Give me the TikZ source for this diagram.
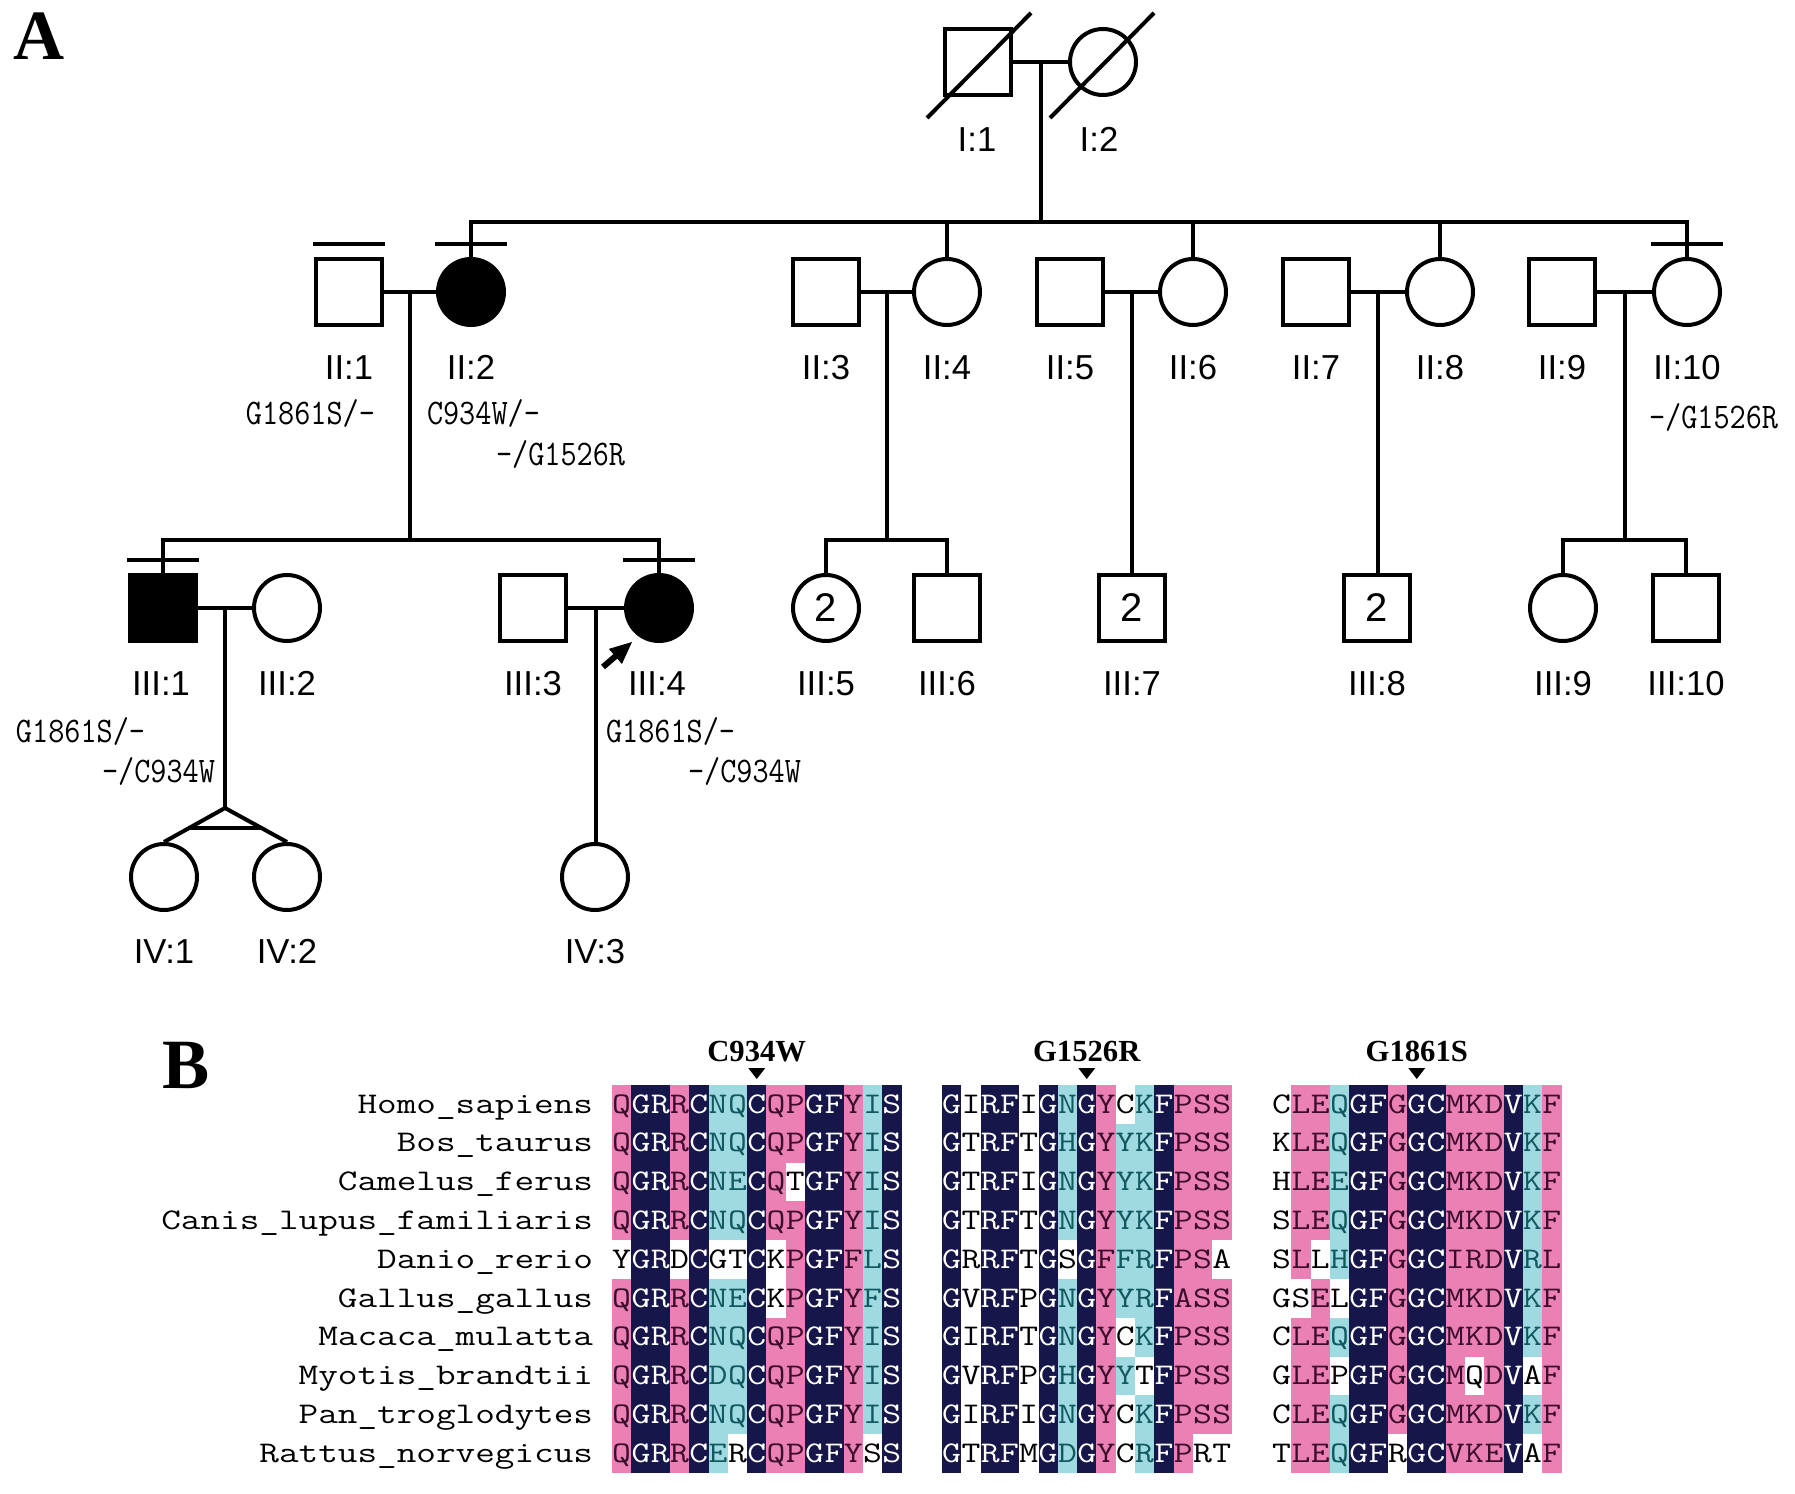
\documentclass[tikz,border=0pt]{standalone}
\usepackage{fontspec}
\usepackage{graphicx}
\setmainfont{Liberation Serif}
\newfontfamily\pedfont{Liberation Sans}
\usetikzlibrary{calc}

\definecolor{alP}{RGB}{234,128,180}
\definecolor{alN}{RGB}{22,22,74}
\definecolor{alC}{RGB}{158,218,224}
\definecolor{alW}{RGB}{255,255,255}
\definecolor{alPt}{RGB}{60,12,45}
\definecolor{alNt}{RGB}{255,255,255}
\definecolor{alCt}{RGB}{18,88,96}
\definecolor{alWt}{RGB}{0,0,0}

% widened typewriter text for the alignment
\newcommand{\seqtext}[1]{\scalebox{1.22}[1]{#1}}
\newcommand{\sptext}[1]{\scalebox{1.27}[1]{#1}}
\newcommand{\genotext}[1]{\scalebox{0.94}[1.08]{#1}}

% one row of one alignment block: block, row, letters, colour codes
\newcount\alcol
\makeatletter
\def\alrow#1#2#3#4{\def\al@b{#1}\def\al@r{#2}\alcol=0 \al@step#3\@nil#4\@nil}
\def\al@step#1#2\@nil#3#4\@nil{%
  \fill[al#3] ({612+(\al@b-1)*330+\the\alcol*19.3},{1085+(\al@r-1)*38.8}) rectangle ++(19.3,38.8);
  \node[seq, text=al#3t] (al-\al@b-\al@r-\the\alcol) at ({612+(\al@b-1)*330+(\the\alcol+0.5)*19.3},{1085+(\al@r-1)*38.8+28}) {\seqtext{#1}};
  \advance\alcol by 1
  \ifx\relax#2\relax\else\al@step#2\@nil#4\@nil\fi}
\makeatother

\begin{document}
\begin{tikzpicture}[x=0.75pt,y=0.75pt,yscale=-1,xscale=1,line width=3pt,
  male/.style={draw, rectangle, minimum size=50pt, inner sep=0pt},
  female/.style={draw, circle, minimum size=49.5pt, inner sep=0pt},
  affected/.style={fill=black},
  num/.style={font=\pedfont\fontsize{30}{34}\selectfont},
  lab/.style={font=\pedfont\fontsize{26}{30}\selectfont, anchor=base, inner sep=0pt},
  geno/.style={font=\ttfamily\fontsize{25}{30}\selectfont, inner sep=0pt},
  panel/.style={font=\bfseries\fontsize{53}{60}\selectfont, anchor=base west, inner sep=0pt},
  species/.style={font=\ttfamily\fontsize{22.5}{28}\selectfont, anchor=base east, inner sep=0pt},
  seq/.style={font=\ttfamily\fontsize{22.5}{28}\selectfont, anchor=base, inner sep=0pt},
  mut/.style={font=\bfseries\fontsize{23}{26}\selectfont, anchor=base, inner sep=0pt}]
	\useasboundingbox (0,0) rectangle (1795,1494);

	% Text Node
	\node[panel] (pA) at (11,60) {A};
	\node[panel] (pB) at (160,1088) {B};

	%Shape: generation I
	\node[male] (i1) at (978,62) {};
	\node[female] (i2) at (1103,62) {};
	\draw ($(i1)+(-51,56)$) -- ($(i1)+(53,-49)$);
	\draw ($(i2)+(-53,56)$) -- ($(i2)+(51,-49)$);

	%Shape: generation II
	\node[male] (ii1) at (349,292) {};
	\node[female, affected] (ii2) at (471,292) {};
	\node[male] (ii3) at (826,292) {};
	\node[female] (ii4) at (947,292) {};
	\node[male] (ii5) at (1070,292) {};
	\node[female] (ii6) at (1193,292) {};
	\node[male] (ii7) at (1316,292) {};
	\node[female] (ii8) at (1440,292) {};
	\node[male] (ii9) at (1562,292) {};
	\node[female] (ii10) at (1687,292) {};

	%Shape: generation III
	\node[male, affected] (iii1) at (163,608) {};
	\node[female] (iii2) at (287,608) {};
	\node[male] (iii3) at (533,608) {};
	\node[female, affected] (iii4) at (659,608) {};
	\node[female, num] (iii5) at (826,608) {2};
	\node[male] (iii6) at (947,608) {};
	\node[male, num] (iii7) at (1132,608) {2};
	\node[male, num] (iii8) at (1377,608) {2};
	\node[female] (iii9) at (1563,608) {};
	\node[male] (iii10) at (1686,608) {};

	%Shape: generation IV
	\node[female] (iv1) at (164,877) {};
	\node[female] (iv2) at (287,877) {};
	\node[female] (iv3) at (595,877) {};

	% sibship levels
	\coordinate (s2) at (0,222);
	\coordinate (s3) at (0,540);
	\coordinate (s4) at (0,808);

	%Straight Lines: marriages and descent
	\draw (i1) -- (i2);
	\coordinate (m1) at ($(i1)!0.5!(i2)$);
	\draw (m1) -- (m1 |- s2);
	\draw (ii2) -- (ii2 |- s2) -- (ii10 |- s2) -- (ii10);
	\foreach \k in {ii4,ii6,ii8} \draw (\k) -- (\k |- s2);

	\draw (ii1) -- (ii2);
	\draw (ii3) -- (ii4);
	\draw (ii5) -- (ii6);
	\draw (ii7) -- (ii8);
	\draw (ii9) -- (ii10);
	\coordinate (m2a) at ($(ii1)!0.5!(ii2)$);
	\coordinate (m2b) at ($(ii3)!0.5!(ii4)$);
	\coordinate (m2c) at ($(ii5)!0.5!(ii6)$);
	\coordinate (m2d) at ($(ii7)!0.5!(ii8)$);
	\coordinate (m2e) at ($(ii9)!0.5!(ii10)$);
	\draw (m2a) -- (m2a |- s3);
	\draw (iii1) -- (iii1 |- s3) -- (iii4 |- s3) -- (iii4);
	\draw (m2b) -- (m2b |- s3);
	\draw (iii5) -- (iii5 |- s3) -- (iii6 |- s3) -- (iii6);
	\draw (m2c) -- (m2c |- iii7.north);
	\draw (m2d) -- (m2d |- iii8.north);
	\draw (m2e) -- (m2e |- s3);
	\draw (iii9) -- (iii9 |- s3) -- (iii10 |- s3) -- (iii10);

	\draw (iii1) -- (iii2);
	\draw (iii3) -- (iii4);
	\coordinate (m3a) at ($(iii1)!0.5!(iii2)$);
	\coordinate (m3b) at ($(iii3)!0.5!(iii4)$);
	\coordinate (tw) at (m3a |- s4);
	\draw (m3a) -- (tw);
	\draw (iv1.north) -- (tw) -- (iv2.north);
	\draw ($(tw)!0.59!(iv1.north)$) -- ($(tw)!0.59!(iv2.north)$);
	\draw (m3b) -- (m3b |- iv3.north);

	%Straight Lines: bars over tested members
	\foreach \k in {ii1,ii2,ii10,iii1,iii4} \draw ($(\k.north)+(-36,-13)$) -- ($(\k.north)+(36,-13)$);

	%Curve Lines: proband arrow
	\coordinate (pa) at (603,667);
	\coordinate (pt) at (632,642);
	\draw [line width=4.5pt] (pa) -- ($(pa)!0.55!(pt)$);
	\draw [shift={(632,642)}, rotate = 139] [fill=black][line width=0.08] [draw opacity=0] (22,-10) -- (0,0) -- (22,10) -- cycle ;

	% Text Node: labels
	\node[lab] (l-i1) at (977,152) {I:1};
	\node[lab] (l-i2) at (1099,152) {I:2};
	\foreach \k/\x/\t in {1/349/II:1,2/471/II:2,3/826/II:3,4/947/II:4,5/1070/II:5,6/1193/II:6,7/1316/II:7,8/1440/II:8,9/1562/II:9,10/1687/II:10}
		\node[lab] (l-ii\k) at (\x,380) {\t};
	\foreach \k/\x/\t in {1/161/III:1,2/287/III:2,3/533/III:3,4/657/III:4,5/826/III:5,6/947/III:6,7/1132/III:7,8/1377/III:8,9/1563/III:9,10/1686/III:10}
		\node[lab] (l-iii\k) at (\x,695) {\t};
	\foreach \k/\x/\t in {1/164/IV:1,2/287/IV:2,3/595/IV:3}
		\node[lab] (l-iv\k) at (\x,963) {\t};

	% Text Node: genotypes
	\node[geno, anchor=base east] (g-ii1) at (377,425) {\genotext{G1861S/-}};
	\node[geno, anchor=base west] (g-ii2a) at (425,425) {\genotext{C934W/-}};
	\node[geno, anchor=base west] (g-ii2b) at (494,465) {\genotext{-/G1526R}};
	\node[geno, anchor=base west] (g-ii10) at (1647,428) {\genotext{-/G1526R}};
	\node[geno, anchor=base west] (g-iii1a) at (14,742) {\genotext{G1861S/-}};
	\node[geno, anchor=base west] (g-iii1b) at (100,782) {\genotext{-/C934W}};
	\node[geno, anchor=base west] (g-iii4a) at (604,742) {\genotext{G1861S/-}};
	\node[geno, anchor=base west] (g-iii4b) at (686,782) {\genotext{-/C934W}};

	% Text Node: species
	\foreach \sp [count=\r] in {Homo\_sapiens,Bos\_taurus,Camelus\_ferus,Canis\_lupus\_familiaris,Danio\_rerio,Gallus\_gallus,Macaca\_mulatta,Myotis\_brandtii,Pan\_troglodytes,Rattus\_norvegicus}
		\node[species] (sp\r) at (595,{1085+(\r-1)*38.8+28}) {\sptext{\sp}};

	%Shape: alignment blocks
	\alrow{1}{1}{QGRRCNQCQPGFYIS}{PNNPNCCNPPNNPCN}
	\alrow{1}{2}{QGRRCNQCQPGFYIS}{PNNPNCCNPPNNPCN}
	\alrow{1}{3}{QGRRCNECQTGFYIS}{PNNPNCCNPWNNPCN}
	\alrow{1}{4}{QGRRCNQCQPGFYIS}{PNNPNCCNPPNNPCN}
	\alrow{1}{5}{YGRDCGTCKPGFFLS}{WNNWNWWNWPNNPCN}
	\alrow{1}{6}{QGRRCNECKPGFYFS}{PNNPNCCNWPNNPCN}
	\alrow{1}{7}{QGRRCNQCQPGFYIS}{PNNPNCCNPPNNPCN}
	\alrow{1}{8}{QGRRCDQCQPGFYIS}{PNNPNCCNPPNNPCN}
	\alrow{1}{9}{QGRRCNQCQPGFYIS}{PNNPNCCNPPNNPCN}
	\alrow{1}{10}{QGRRCERCQPGFYSS}{PNNPNCWNPPNNPWN}

	\alrow{2}{1}{GIRFIGNGYCKFPSS}{NWNNWNCNPWCNPPP}
	\alrow{2}{2}{GTRFTGHGYYKFPSS}{NWNNWNCNPCCNPPP}
	\alrow{2}{3}{GTRFIGNGYYKFPSS}{NWNNWNCNPCCNPPP}
	\alrow{2}{4}{GTRFTGNGYYKFPSS}{NWNNWNCNPCCNPPP}
	\alrow{2}{5}{GRRFTGSGFFRFPSA}{NWNNWNWNPCCNPPW}
	\alrow{2}{6}{GVRFPGNGYYRFASS}{NWNNWNCNPCCNPPP}
	\alrow{2}{7}{GIRFTGNGYCKFPSS}{NWNNWNCNPWCNPPP}
	\alrow{2}{8}{GVRFPGHGYYTFPSS}{NWNNWNCNPCWNPPP}
	\alrow{2}{9}{GIRFIGNGYCKFPSS}{NWNNWNCNPWCNPPP}
	\alrow{2}{10}{GTRFMGDGYCRFPRT}{NWNNWNCNPWCNPWW}

	\alrow{3}{1}{CLEQGFGGCMKDVKF}{WPPCNNPNNPPPNCP}
	\alrow{3}{2}{KLEQGFGGCMKDVKF}{WPPCNNPNNPPPNCP}
	\alrow{3}{3}{HLEEGFGGCMKDVKF}{WPPCNNPNNPPPNCP}
	\alrow{3}{4}{SLEQGFGGCMKDVKF}{WPPCNNPNNPPPNCP}
	\alrow{3}{5}{SLLHGFGGCIRDVRL}{WPWCNNPNNPPPNCP}
	\alrow{3}{6}{GSELGFGGCMKDVKF}{WWPWNNPNNPPPNCP}
	\alrow{3}{7}{CLEQGFGGCMKDVKF}{WPPCNNPNNPPPNCP}
	\alrow{3}{8}{GLEPGFGGCMQDVAF}{WPPWNNPNNPWPNWP}
	\alrow{3}{9}{CLEQGFGGCMKDVKF}{WPPCNNPNNPPPNCP}
	\alrow{3}{10}{TLEQGFRGCVKEVAF}{WPPCNNWNNPPPNWP}

	% Text Node: mutations
	\foreach \b/\t in {1/C934W,2/G1526R,3/G1861S} {
		\node[mut] (mu\b) at ({612+(\b-1)*330+7.5*19.3},1061) {\t};
		\fill ({612+(\b-1)*330+7.5*19.3-8.5},1068) -- ++(17,0) -- ++(-8.5,11) -- cycle;
	}

\end{tikzpicture}
\end{document}
